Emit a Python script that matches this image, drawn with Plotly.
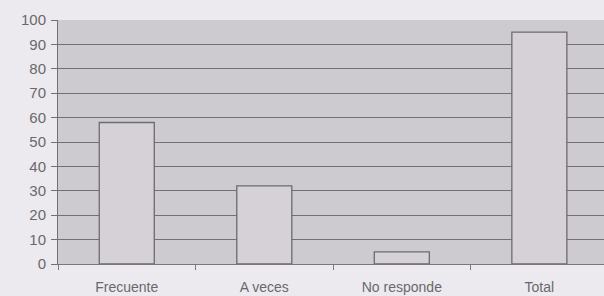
import plotly.graph_objects as go

categories = ["Frecuente", "A veces", "No responde", "Total"]
values = [58, 32, 5, 95]
y_ticks = [0, 10, 20, 30, 40, 50, 60, 70, 80, 90, 100]

fig = go.Figure()
fig.add_trace(go.Bar(
    x=categories, y=values, width=0.4,
    marker=dict(color="#d5d1d6", line=dict(color="#6e6a70", width=1.3)),
))

fig.update_layout(
    width=604, height=296,
    margin=dict(l=58, r=0, t=20, b=32),
    paper_bgcolor="#eceaee",
    plot_bgcolor="#cecbd0",
    showlegend=False,
    font=dict(family="Liberation Sans, Arial, sans-serif", size=14, color="#6a686c"),
    bargap=0.6,
)
fig.update_xaxes(
    range=[-0.5, 3.47],
    showgrid=False,
    tickson="boundaries",
    ticks="outside", ticklen=5, tickcolor="#7a777c",
    showline=True, linecolor="#7a777c", linewidth=1,
    tickfont=dict(size=14, color="#6a686c"),
    ticklabelstandoff=10,
)
fig.update_yaxes(
    range=[0, 100],
    tickvals=y_ticks,
    showgrid=True, gridcolor="#736f75", gridwidth=1.2,
    ticks="outside", ticklen=6, tickcolor="#736f75",
    showline=True, linecolor="#736f75", linewidth=1,
    zeroline=False,
    tickfont=dict(size=15, color="#6a686c"),
    ticklabelstandoff=2,
)

fig.write_html("out.html", config={"displayModeBar": False},
               post_script="document.body.style.margin='0';")
